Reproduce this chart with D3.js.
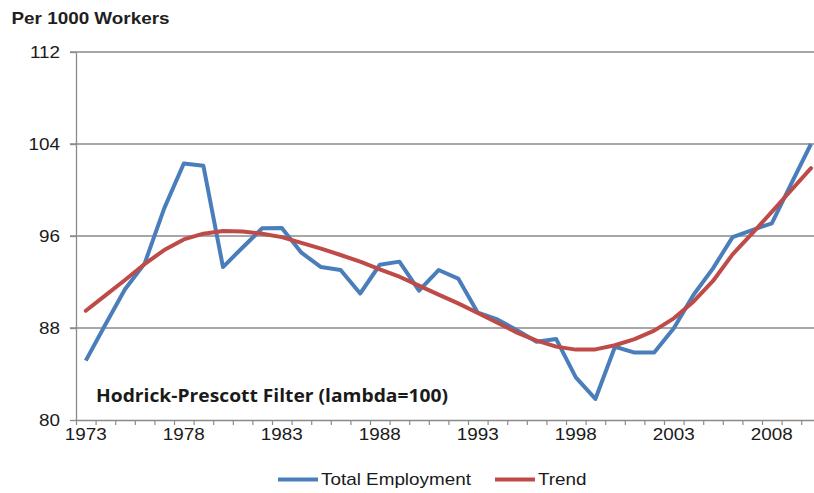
<!DOCTYPE html>
<html>
<head>
<meta charset="utf-8">
<script src="https://cdn.jsdelivr.net/npm/d3@7"></script>
<style>
  html, body { margin: 0; padding: 0; background: #fff; }
  svg { display: block; }
  text { font-family: "Liberation Sans", Arial, sans-serif; fill: #1a1a1a; }
</style>
</head>
<body>
<svg id="chart" width="814" height="493"></svg>
<script>
// Employment per 1000 workers, annual, with its Hodrick-Prescott trend
const years = d3.range(1973, 2011);
const totalEmployment = [
  85.16, 88.3, 91.37, 93.6, 98.4, 102.3, 102.1, 93.3, 95.0, 96.67,
  96.7, 94.55, 93.3, 93.05, 91.0, 93.5, 93.77, 91.24, 93.04, 92.3,
  89.33, 88.75, 87.8, 86.8, 87.04, 83.7, 81.83, 86.37, 85.86, 85.86,
  87.97, 90.87, 93.19, 95.9, 96.52, 97.1, 100.58, 104.0
];
const trend = [
  89.5, 90.84, 92.17, 93.56, 94.78, 95.7, 96.2, 96.43, 96.4, 96.2,
  95.9, 95.4, 94.9, 94.35, 93.77, 93.1, 92.46, 91.68, 90.9, 90.14,
  89.3, 88.45, 87.6, 86.9, 86.38, 86.12, 86.14, 86.5, 87.04, 87.77,
  88.84, 90.29, 92.09, 94.4, 96.23, 98.1, 100.0, 101.9
];
const yTicks = [80, 88, 96, 104, 112];
const xLabelYears = years.filter(y => (y - 1973) % 5 === 0);

const svg = d3.select("#chart");
const plotLeft = 76, plotTop = 52, plotBottom = 420;
const step = 19.6;
const plotRight = plotLeft + years.length * step;
const SX = 1.18; // horizontal text stretch

const x = d3.scaleBand().domain(years).range([plotLeft, plotRight]).padding(0);
const xb = d3.scaleLinear().domain([0, years.length]).range([plotLeft, plotRight]);
const y = d3.scaleLinear().domain([80, 112]).range([plotBottom, plotTop]);
const cx = d => x(d) + x.bandwidth() / 2;

const gridColor = "#8a8a8a";

// horizontal gridlines
svg.append("g")
  .selectAll("line")
  .data(yTicks.filter(v => v !== 80))
  .join("line")
  .attr("x1", plotLeft - 6).attr("x2", plotRight)
  .attr("y1", d => y(d)).attr("y2", d => y(d))
  .attr("stroke", gridColor).attr("stroke-width", 1.3);

// y axis
const yAxis = svg.append("g")
  .attr("transform", `translate(${plotLeft},0)`)
  .call(d3.axisLeft(y).tickValues(yTicks).tickSize(6).tickSizeOuter(0).tickFormat(d3.format("d")));
yAxis.select(".domain").attr("stroke", gridColor).attr("stroke-width", 1.3);
yAxis.selectAll(".tick line").attr("stroke", gridColor).attr("stroke-width", 1.3);
yAxis.selectAll(".tick text")
  .attr("x", -16 / SX)
  .attr("dy", "0.36em")
  .attr("transform", `scale(${SX},1)`)
  .style("font-size", "16px")
  .style("fill", "#1a1a1a");

// x axis: ticks at category boundaries
const xTickAxis = svg.append("g")
  .attr("transform", `translate(0,${plotBottom})`)
  .call(d3.axisBottom(xb).tickValues(d3.range(0, years.length + 1)).tickSize(5).tickSizeOuter(0).tickFormat(""));
xTickAxis.select(".domain").attr("stroke", gridColor).attr("stroke-width", 1.3);
xTickAxis.selectAll(".tick line").attr("stroke", gridColor).attr("stroke-width", 1.2);

// x labels centred on categories
const xLabelAxis = svg.append("g")
  .attr("transform", `translate(0,${plotBottom})`)
  .call(d3.axisBottom(x).tickValues(xLabelYears).tickSize(0).tickPadding(9));
xLabelAxis.select(".domain").remove();
xLabelAxis.selectAll(".tick text")
  .attr("transform", `scale(${SX},1)`)
  .style("font-size", "16px")
  .style("fill", "#1a1a1a");

// series lines
const line = d3.line().x((d, i) => cx(years[i])).y(d => y(d));

svg.append("path")
  .datum(totalEmployment)
  .attr("d", line)
  .attr("fill", "none")
  .attr("stroke", "#4a7ebb")
  .attr("stroke-width", 4)
  .attr("stroke-linejoin", "round");

svg.append("path")
  .datum(trend)
  .attr("d", line)
  .attr("fill", "none")
  .attr("stroke", "#be4b48")
  .attr("stroke-width", 4)
  .attr("stroke-linejoin", "round")
  .attr("stroke-linecap", "round");

// unit title
svg.append("text")
  .attr("transform", `translate(11.5,24) scale(${SX},1)`)
  .style("font-size", "16px")
  .style("font-weight", "bold")
  .style("fill", "#1f1f1f")
  .text("Per 1000 Workers");

// filter note
svg.append("text")
  .attr("x", 96).attr("y", 401.5)
  .attr("textLength", 352)
  .attr("lengthAdjust", "spacingAndGlyphs")
  .style("font-family", "'Open Sans', sans-serif")
  .style("font-size", "17.5px")
  .style("font-weight", "bold")
  .style("fill", "#1a1a1a")
  .text("Hodrick-Prescott Filter (lambda=100)");

// legend
const legendItems = [
  { label: "Total Employment", color: "#4a7ebb", x: 278 },
  { label: "Trend", color: "#be4b48", x: 495 }
];
const lg = svg.append("g");
legendItems.forEach(item => {
  lg.append("line")
    .attr("x1", item.x).attr("x2", item.x + 40)
    .attr("y1", 479.5).attr("y2", 479.5)
    .attr("stroke", item.color).attr("stroke-width", 4);
  lg.append("text")
    .attr("transform", `translate(${item.x + 43},485) scale(${SX},1)`)
    .style("font-size", "16px")
    .style("fill", "#1a1a1a")
    .text(item.label);
});
</script>
</body>
</html>
